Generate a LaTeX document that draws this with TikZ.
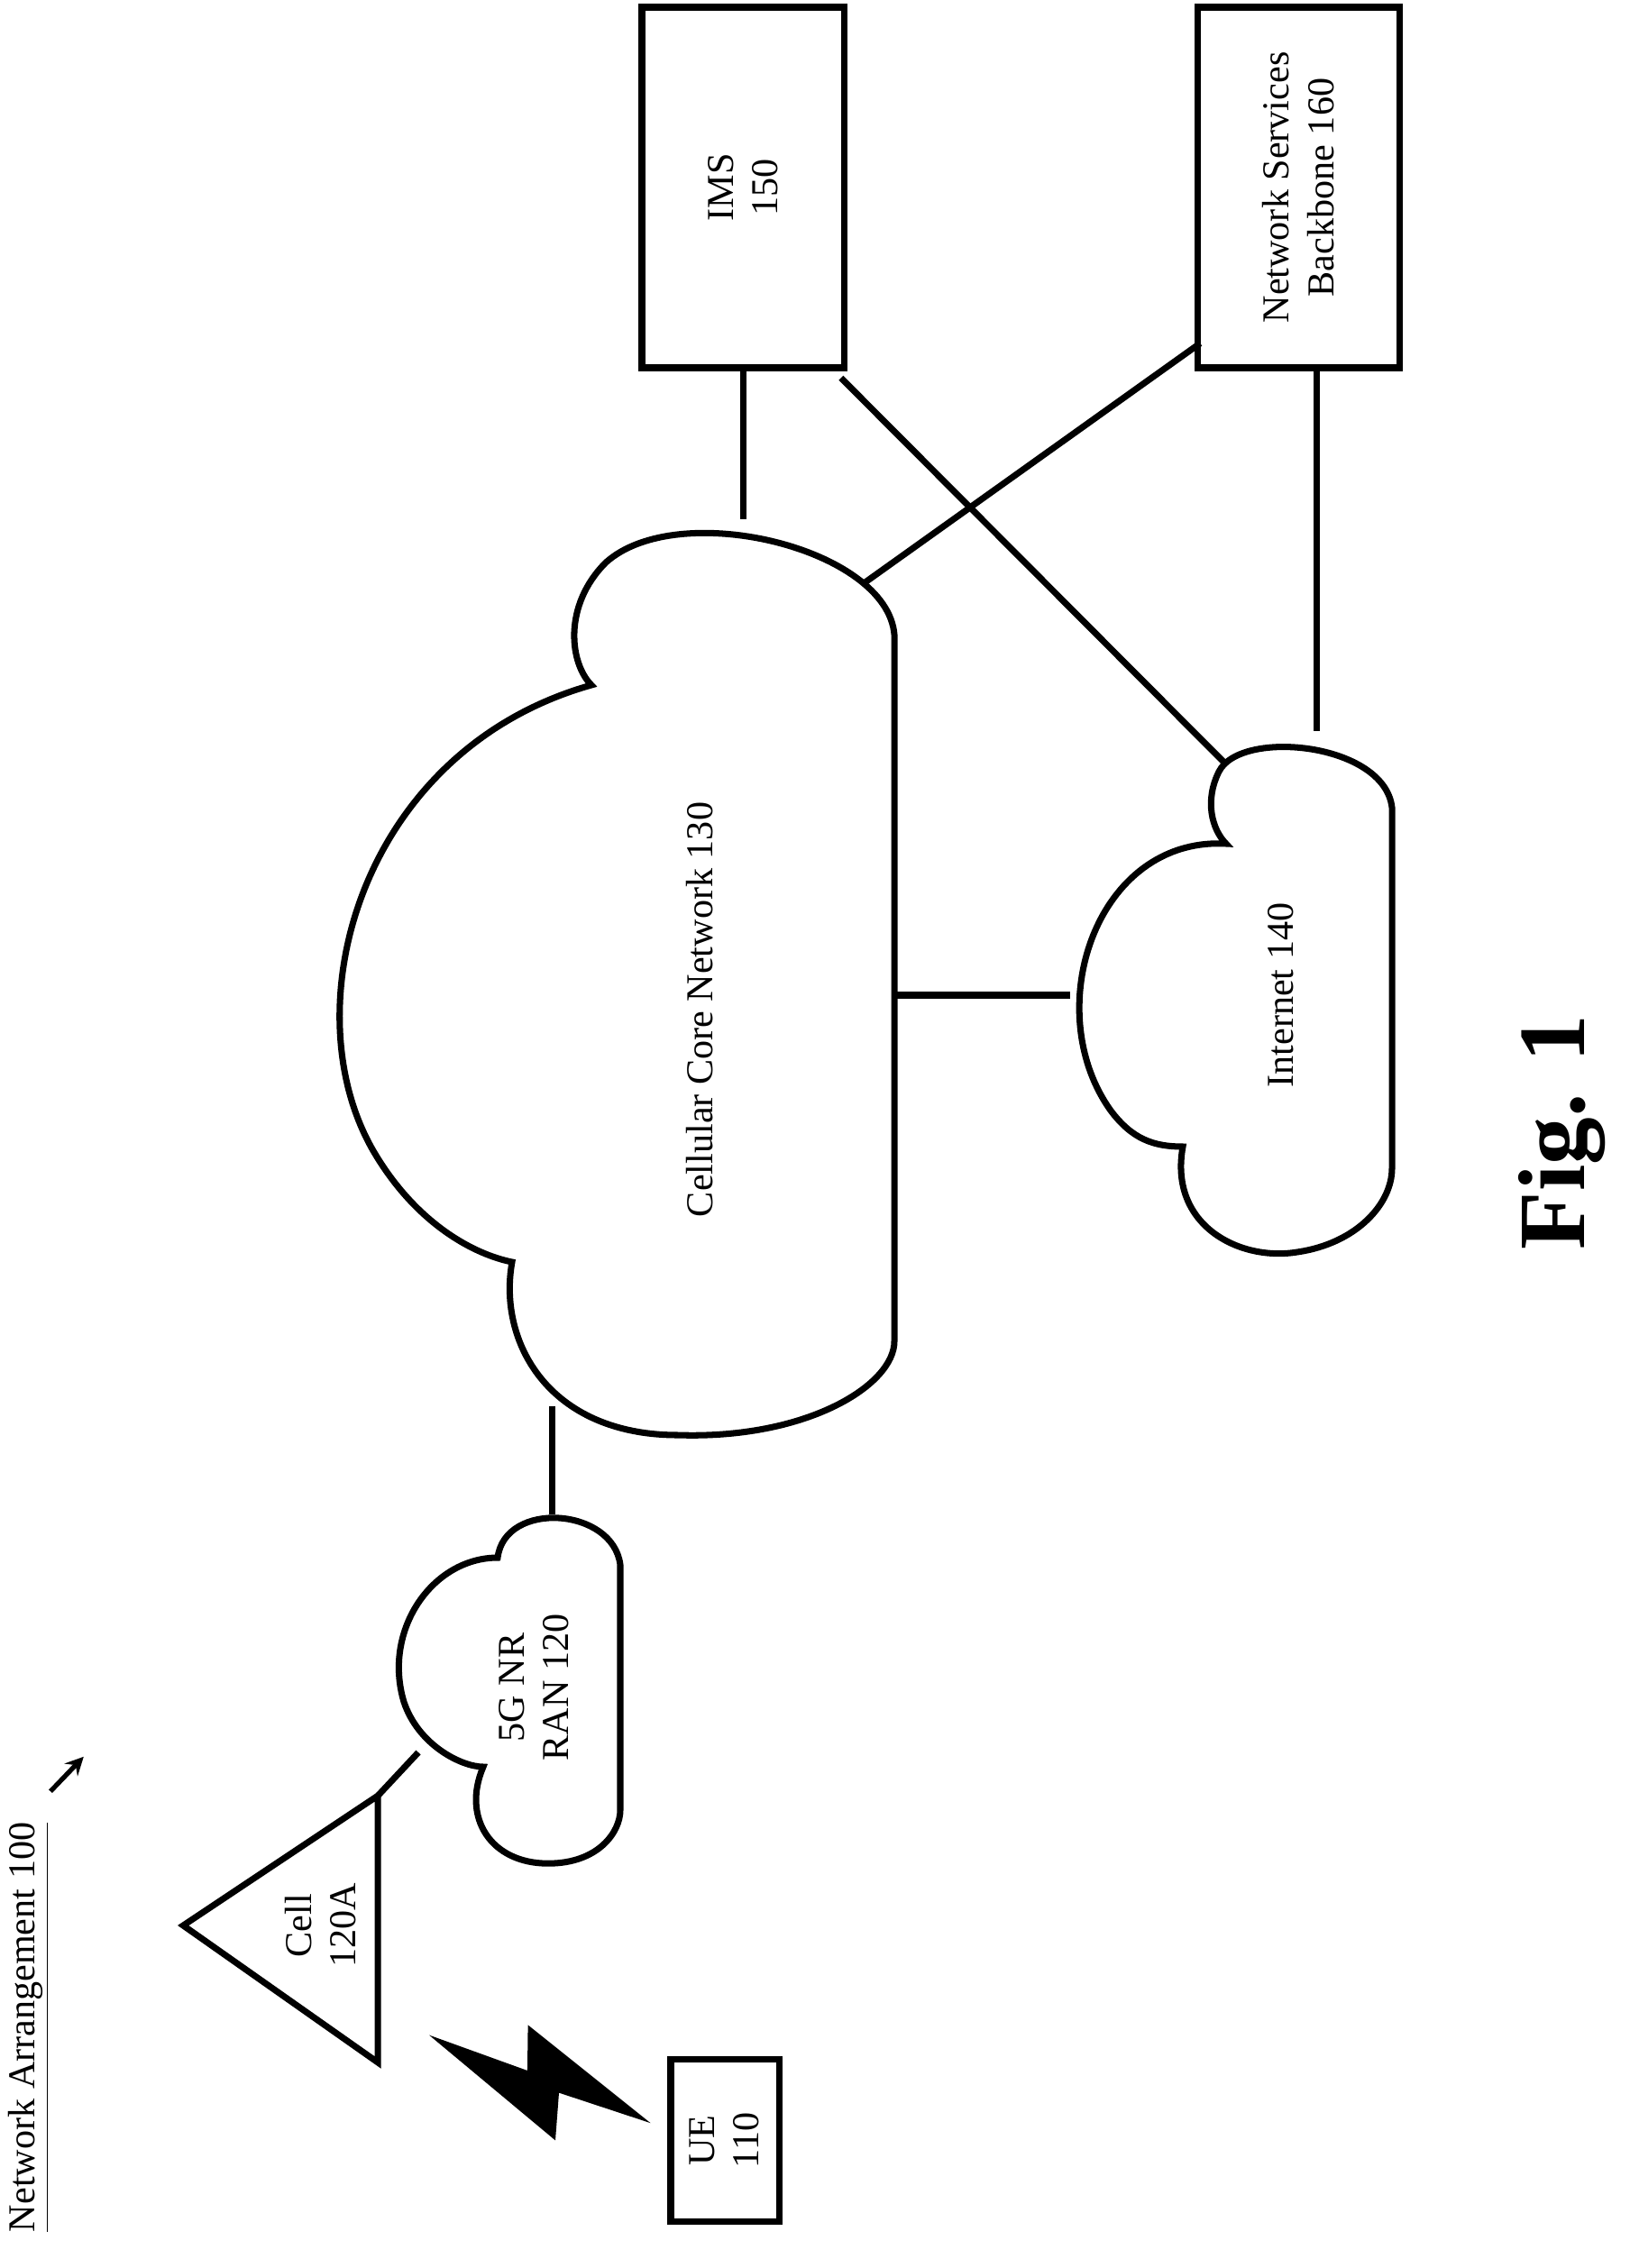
\documentclass[tikz,border=0pt]{standalone}
\usepackage{fontspec}
\setmainfont{Liberation Serif}
\begin{document}
\begin{tikzpicture}[x=0.016cm,y=-0.016cm,line width=2pt,
  lbl/.style={rotate=90,align=center,font=\fontsize{12}{14}\selectfont}]
\useasboundingbox (0,0) rectangle (1129.4,1572.5);
% boxes
\draw (465,1428) rectangle (540,1540);
\node[lbl] (ue) at (502,1484) {UE\\110};
\draw (445,5) rectangle (585,255);
\node[lbl] (ims) at (515,130) {IMS\\150};
\draw (830,5) rectangle (970,255);
\node[lbl] (nsb) at (900,130) {Network Services\\Backbone 160};
% cell
\draw (127,1335) -- (262,1245) -- (262,1430) -- cycle;
\node[lbl] (cell) at (222,1335) {Cell\\120A};
% lightning
\fill (297.5,1411) -- (365.6,1435.6) -- (366,1404) -- (451,1472) -- (387.5,1451) -- (385,1484) -- cycle;
% clouds
\draw (430,1085) .. controls (425,1045) and (350,1040) .. (345,1080)
  .. controls (300,1080) and (265,1130) .. (280,1180)
  .. controls (290,1210) and (320,1225) .. (335,1225)
  .. controls (320,1260) and (340,1292) .. (380,1292)
  .. controls (415,1292) and (430,1270) .. (430,1255) -- cycle;
\node[lbl] (ran) at (370,1170) {5G NR\\RAN 120};
\draw (620,440) .. controls (615,380) and (470,345) .. (420,390)
  .. controls (390,420) and (395,460) .. (410,475)
  .. controls (250,520) and (200,700) .. (260,800)
  .. controls (290,850) and (330,870) .. (355,875)
  .. controls (345,930) and (380,995) .. (470,995)
  .. controls (560,998) and (620,960) .. (620,930) -- cycle;
\node[lbl] (core) at (485,700) {Cellular Core Network 130};
\draw (965,560) .. controls (960,515) and (860,505) .. (845,535)
  .. controls (835,555) and (840,575) .. (850,585)
  .. controls (760,580) and (720,700) .. (770,770)
  .. controls (785,790) and (800,795) .. (820,795)
  .. controls (810,850) and (860,875) .. (900,868)
  .. controls (940,862) and (965,835) .. (965,810) -- cycle;
\node[lbl] (inet) at (888,690) {Internet 140};
% connector ends
\coordinate (cellA) at (262,1245);
\coordinate (ranA) at (290,1215);
\coordinate (ranB) at (383,1050);
\coordinate (coreA) at (383,975);
\coordinate (coreB) at (620,690);
\coordinate (inetA) at (742,690);
\coordinate (coreC) at (515,360);
\coordinate (imsA) at (515,255);
\coordinate (imsB) at (583,262);
\coordinate (inetB) at (850,530);
\coordinate (nsbA) at (832,238);
\coordinate (coreD) at (598,405);
\coordinate (nsbB) at (913,255);
\coordinate (inetC) at (913,507);
\draw (cellA) -- (ranA);
\draw (ranB) -- (coreA);
\draw (coreB) -- (inetA);
\draw (imsA) -- (coreC);
\draw (imsB) -- (inetB);
\draw (nsbA) -- (coreD);
\draw (nsbB) -- (inetC);
% titles
\node[rotate=90,anchor=west,font=\fontsize{12}{14}\selectfont] (title) at (20,1557) {\underline{Network Arrangement 100}};
\coordinate (arrS) at (35,1242);
\coordinate (arrE) at (58,1218);
\draw[->,>=stealth,line width=1.5pt] (arrS) -- (arrE);
\node[rotate=90,font=\fontsize{30}{34}\bfseries] (fig) at (1083,785) {Fig. 1};
\end{tikzpicture}
\end{document}
